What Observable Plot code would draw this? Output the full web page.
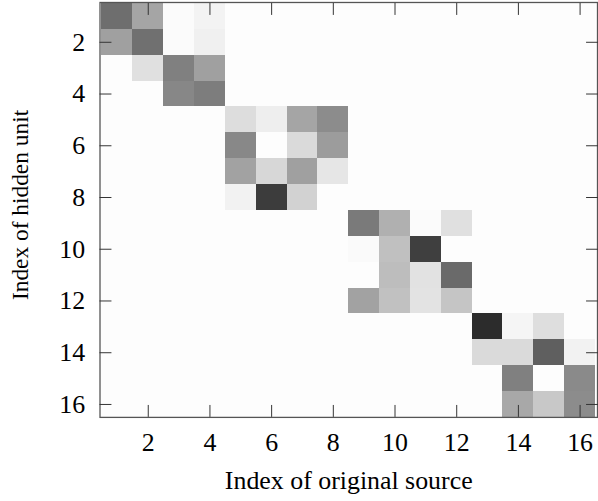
<!DOCTYPE html>
<html>
<head>
<meta charset="utf-8">
<script src="https://cdn.jsdelivr.net/npm/d3@7"></script>
<script src="https://cdn.jsdelivr.net/npm/@observablehq/plot@0.6"></script>
<style>
  html, body { margin: 0; padding: 0; background: #fff; overflow: hidden; }
  #chart svg { display: block; }
</style>
</head>
<body>
<div id="chart"></div>
<script>
// Indices of hidden units (rows) and original sources (columns)
const rows = d3.range(1, 17);
const cols = d3.range(1, 17);
const tickValues = [2, 4, 6, 8, 10, 12, 14, 16];
const xLabel = "Index of original source";
const yLabel = "Index of hidden unit";

// Weight magnitudes (0 = white, 1 = black), one array per hidden unit
const unit01 = [0.565, 0.348, 0.008, 0.040, 0, 0, 0, 0, 0, 0, 0, 0, 0, 0, 0, 0];
const unit02 = [0.368, 0.557, 0.008, 0.051, 0, 0, 0, 0, 0, 0, 0, 0, 0, 0, 0, 0];
const unit03 = [0, 0.115, 0.494, 0.368, 0, 0, 0, 0, 0, 0, 0, 0, 0, 0, 0, 0];
const unit04 = [0, 0, 0.466, 0.506, 0, 0, 0, 0, 0, 0, 0, 0, 0, 0, 0, 0];
const unit05 = [0, 0, 0, 0, 0.126, 0.059, 0.348, 0.447, 0, 0, 0, 0, 0, 0, 0, 0];
const unit06 = [0, 0, 0, 0, 0.462, 0, 0.138, 0.383, 0, 0, 0, 0, 0, 0, 0, 0];
const unit07 = [0, 0, 0, 0, 0.360, 0.150, 0.368, 0.091, 0, 0, 0, 0, 0, 0, 0, 0];
const unit08 = [0, 0, 0, 0, 0.043, 0.763, 0.170, 0, 0, 0, 0, 0, 0, 0, 0, 0];
const unit09 = [0, 0, 0, 0, 0, 0, 0, 0, 0.518, 0.304, 0.008, 0.115, 0, 0, 0, 0];
const unit10 = [0, 0, 0, 0, 0, 0, 0, 0, 0.012, 0.241, 0.751, 0, 0, 0, 0, 0];
const unit11 = [0, 0, 0, 0, 0, 0, 0, 0, 0, 0.253, 0.107, 0.581, 0, 0, 0, 0];
const unit12 = [0, 0, 0, 0, 0, 0, 0, 0, 0.360, 0.237, 0.103, 0.221, 0, 0, 0, 0];
const unit13 = [0, 0, 0, 0, 0, 0, 0, 0, 0, 0, 0, 0, 0.826, 0.032, 0.123, 0];
const unit14 = [0, 0, 0, 0, 0, 0, 0, 0, 0, 0, 0, 0, 0.138, 0.138, 0.625, 0.043];
const unit15 = [0, 0, 0, 0, 0, 0, 0, 0, 0, 0, 0, 0, 0, 0.494, 0, 0.455];
const unit16 = [0, 0, 0, 0, 0, 0, 0, 0, 0, 0, 0, 0, 0, 0.336, 0.209, 0.447];

const matrix = [unit01, unit02, unit03, unit04, unit05, unit06, unit07, unit08,
                unit09, unit10, unit11, unit12, unit13, unit14, unit15, unit16];

const cells = [];
matrix.forEach((vals, i) => vals.forEach((v, j) => cells.push({row: rows[i], col: cols[j], v})));

const font = "Liberation Serif";
const fs = 26;

const chart = Plot.plot({
  width: 601,
  height: 501,
  marginLeft: 100,
  marginRight: 1,
  marginTop: 2,
  marginBottom: 82,
  style: {fontFamily: font, fontSize: fs + "px", color: "#000", background: "#fff"},
  x: {type: "band", domain: cols, padding: 0},
  y: {type: "band", domain: rows, padding: 0},
  color: {type: "linear", domain: [0, 1], range: ["#fdfdfd", "#000000"]},
  marks: [
    Plot.cell(cells, {x: "col", y: "row", fill: "v", inset: 0, shapeRendering: "crispEdges"}),
    Plot.frame({stroke: "#555", strokeWidth: 1.3}),
    Plot.axisX({anchor: "bottom", ticks: tickValues, tickSize: -12, tickPadding: 27, stroke: "#333",
      label: xLabel, labelAnchor: "center", labelArrow: "none", labelOffset: 72, fontSize: fs, fontFamily: font}),
    Plot.axisX({anchor: "top", ticks: tickValues, tickSize: -12, stroke: "#333", tickFormat: () => "", label: null}),
    Plot.axisY({anchor: "left", ticks: tickValues, tickSize: -12, tickPadding: 27, stroke: "#333",
      label: yLabel, labelAnchor: "center", labelArrow: "none", labelOffset: 89, fontSize: fs, fontFamily: font}),
    Plot.axisY({anchor: "right", ticks: tickValues, tickSize: -12, stroke: "#333", tickFormat: () => "", label: null})
  ]
});
d3.select(chart).selectAll("text")
  .attr("font-family", font).attr("font-size", fs).attr("fill", "#000");
d3.select(chart).selectAll("g[aria-label='y-axis label'] text")
  .attr("font-size", 23.5).attr("dx", 5);
document.getElementById("chart").appendChild(chart);
</script>
</body>
</html>
